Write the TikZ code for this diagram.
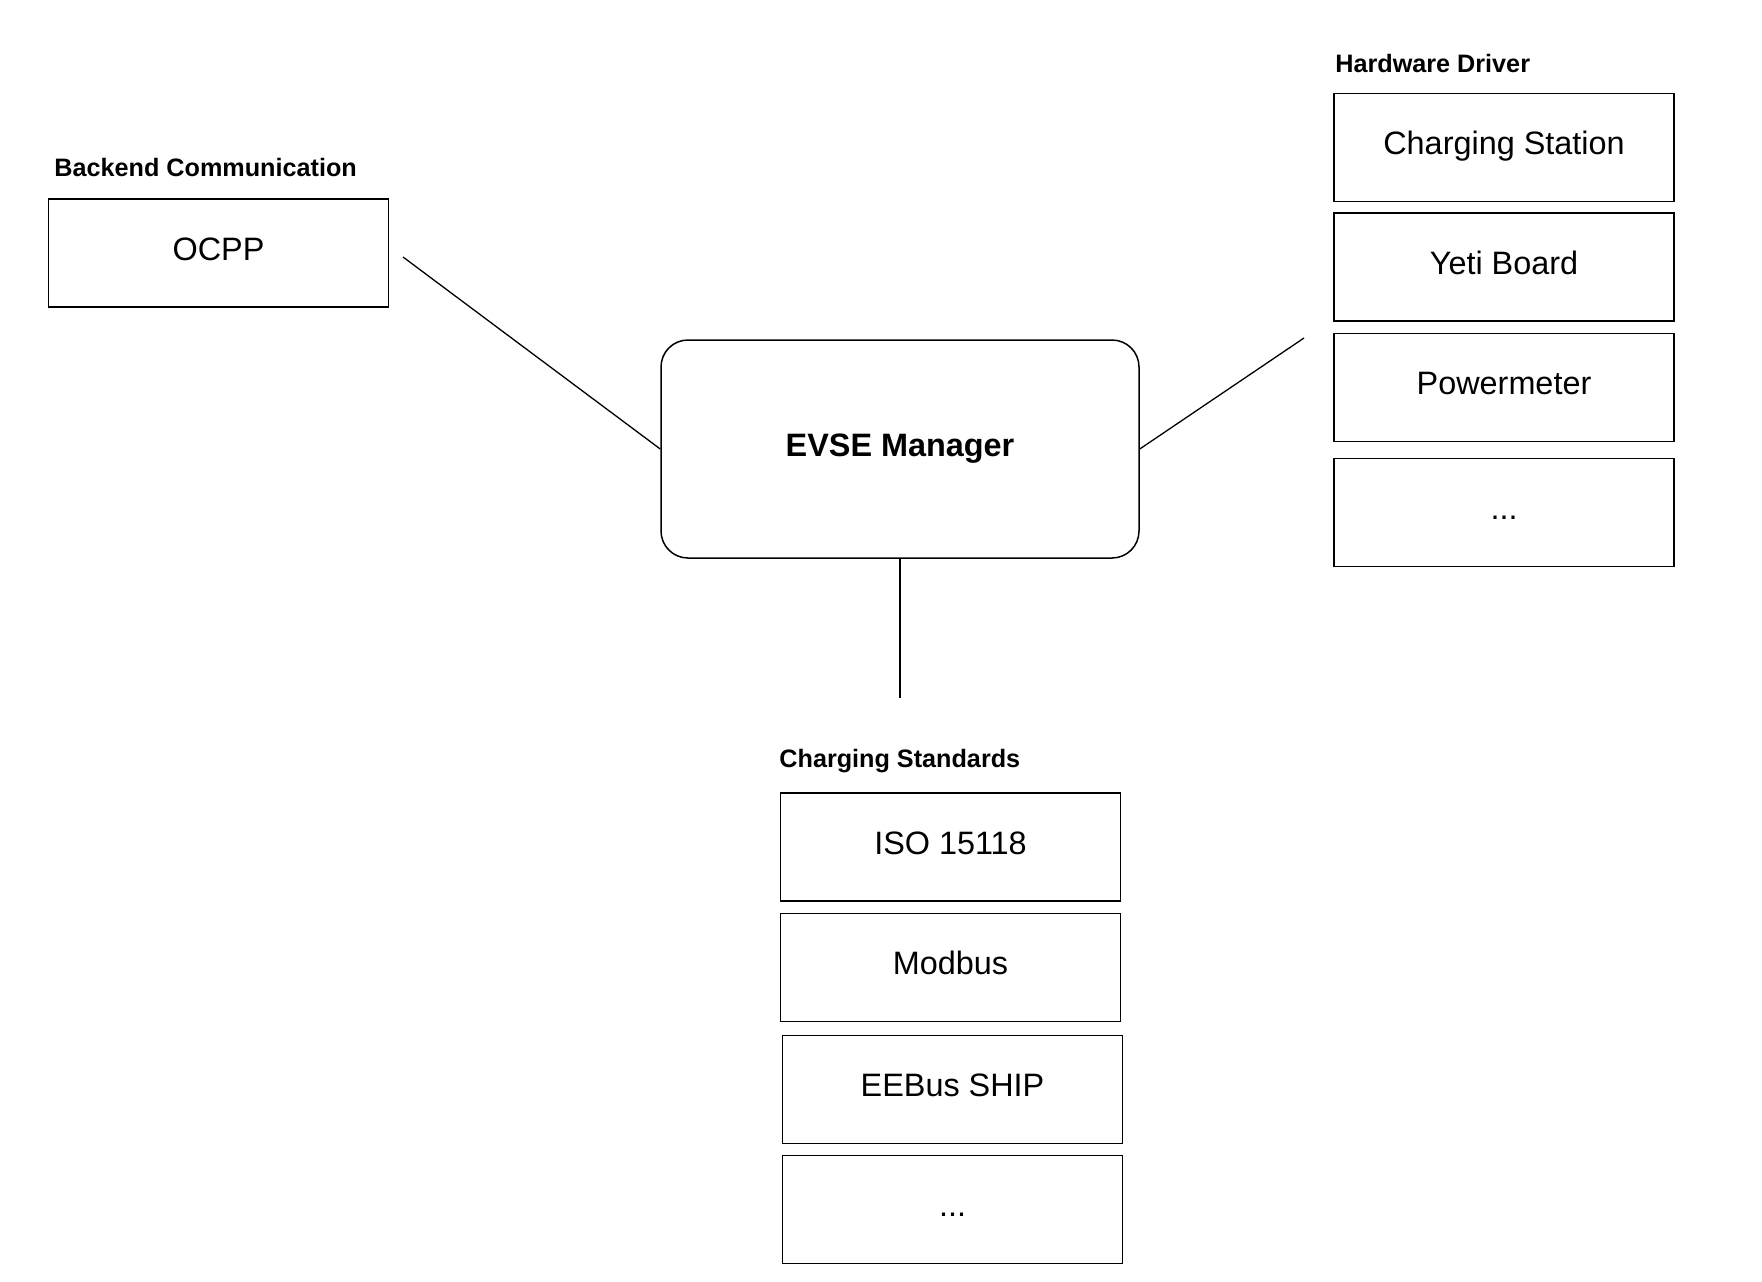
\documentclass[tikz,border=0pt]{standalone}
\usepackage{fontspec}
\setmainfont{Liberation Sans}
\tikzset{
    BX/.style ={rectangle,minimum width = 170pt, minimum height = 54pt, draw, line width=0.75pt, inner sep=0pt, text height=11.6pt, text depth=4.6pt, font=\fontsize{16.2}{19}\selectfont},
    MG/.style ={rectangle,rounded corners=13.5pt,minimum width = 239pt, minimum height = 109pt, draw, line width=0.75pt, font=\fontsize{16.2}{19}\selectfont\bfseries},
    TL/.style ={anchor=base west, inner sep=0pt, font=\fontsize{12.6}{15}\selectfont\bfseries},
    LN/.style ={line width=0.65pt}}

\begin{document}
\begin{tikzpicture}[x=0.5pt,y=-0.5pt]
        \useasboundingbox (0,0) rectangle (1762,1281);
        % backend
        \node[TL] (tb) at (54,176){Backend Communication};
        \node[BX] (ocpp) at (218.5,253){OCPP};
        % manager
        \node[MG] (evse) at (900,449){EVSE Manager};
        % hardware
        \node[TL] (th) at (1335,72){Hardware Driver};
        \node[BX] (cs) at (1504,147.5){Charging Station};
        \node[BX] (yb) at (1504,267){Yeti Board};
        \node[BX] (pm) at (1504,387.5){Powermeter};
        \node[BX] (hx) at (1504,512.5){...};
        % standards
        \node[TL] (ts) at (779,767){Charging Standards};
        \node[BX] (iso) at (950.5,847){ISO 15118};
        \node[BX] (mb) at (950.5,967.5){Modbus};
        \node[BX] (ee) at (952.5,1089.5){EEBus SHIP};
        \node[BX] (sx) at (952.5,1209.5){...};
        % links
        \coordinate (cl) at (403,257);
        \coordinate (cr) at (1304,338);
        \coordinate (cb) at (900,698);
        \draw[LN] (cl) -- (evse.west);
        \draw[LN] (evse.east) -- (cr);
        \draw[LN] (evse.south) -- (cb);
    \end{tikzpicture}
\end{document}
